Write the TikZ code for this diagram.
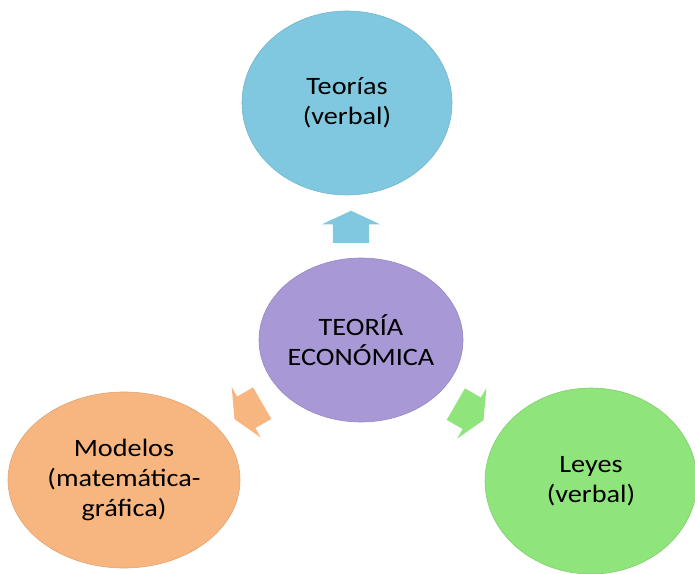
\documentclass[tikz,border=0pt]{standalone}
\usepackage{fontspec}
\setmainfont{Carlito}[FakeStretch=1.13]
\usetikzlibrary{shapes.geometric,shapes.arrows}
\definecolor{cteo}{RGB}{128,200,224}
\definecolor{ceco}{RGB}{168,152,214}
\definecolor{cmod}{RGB}{247,182,128}
\definecolor{cley}{RGB}{144,228,124}
\tikzset{
  bubble/.style={ellipse,inner sep=-6pt,align=center,font=\fontsize{25}{30}\selectfont,line width=0.6pt},
  blockarrow/.style={single arrow,inner xsep=0pt,inner ysep=18pt,minimum height=32pt,
    single arrow head extend=11pt,single arrow tip angle=130,draw=none}
}
\begin{document}
\begin{tikzpicture}[x=1pt,y=1pt]
\useasboundingbox (0,0) rectangle (695,573);
\begin{scope}
\clip (0,0) rectangle (695,573);
\node[bubble,fill=cteo,draw=cteo!90!black,minimum width=210pt,minimum height=184pt] (teo) at (347,470) {Teorías\\(verbal)};
\node[bubble,fill=ceco,draw=ceco!90!black,minimum width=204pt,minimum height=164pt] (eco) at (361,233) {TEORÍA\\ECONÓMICA};
\node[bubble,fill=cmod,draw=cmod!90!black,minimum width=232pt,minimum height=176pt] (mod) at (124,93) {Modelos\\(matemática-\\gráfica)};
\node[bubble,fill=cley,draw=cley!90!black,minimum width=212pt,minimum height=186pt] (ley) at (591,92) {Leyes\\(verbal)};
\end{scope}

\node[blockarrow,fill=cteo,rotate=90] (upar) at (351,342) {};
\node[blockarrow,fill=cmod,rotate=210] (leftar) at (252,164) {};
\node[blockarrow,fill=cley,rotate=-30] (rightar) at (466,163) {};
\end{tikzpicture}
\end{document}
